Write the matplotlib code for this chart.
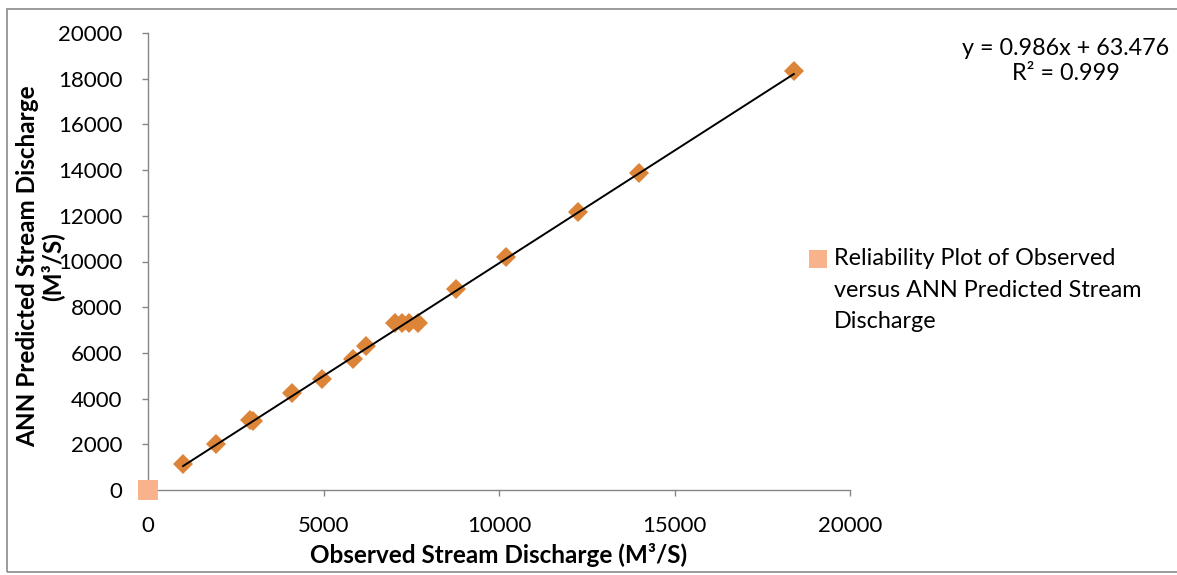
import matplotlib
matplotlib.use("Agg")
import matplotlib.pyplot as plt
from matplotlib.patches import Rectangle
from matplotlib.lines import Line2D
import numpy as np

plt.rcParams['font.family'] = ['Lato', 'DejaVu Sans']

# Observed vs ANN-predicted stream discharge (m^3/s)
observed = [1000, 1950, 2900, 3000, 4100, 4950, 5850, 6200, 7050, 7250, 7450,
            7700, 8780, 10200, 12250, 14000, 18400]
predicted = [1150, 2000, 3050, 3000, 4230, 4850, 5750, 6300, 7320, 7320, 7300,
             7300, 8800, 10200, 12150, 13880, 18340]

# Linear trend line coefficients and goodness of fit
slope = 0.986
intercept = 63.476
r_squared = 0.999

# Single reference point for the legend series
ref_x = [0]
ref_y = [0]
series_name = 'Reliability Plot of Observed\nversus ANN Predicted Stream\nDischarge'

x_ticks = [0, 5000, 10000, 15000, 20000]
y_ticks = list(range(0, 20001, 2000))

diamond_color = '#DC8538'
square_color = '#F8B38C'
axis_gray = '#868686'

fig = plt.figure(figsize=(11.77, 5.75), dpi=100)
ax = fig.add_axes([148 / 1177, 1 - 490 / 575, 702 / 1177, 457 / 575])

# Scatter of model predictions
ax.plot(observed, predicted, linestyle='none', marker='D', markersize=10.2,
        color=diamond_color, markeredgewidth=0, clip_on=False, zorder=3)

# Fitted trend line over the observed range
xs = np.array([min(observed), max(observed)])
ax.plot(xs, slope * xs + intercept, color='black', linewidth=1.4, zorder=4)

# Legend series point at the origin
ax.plot(ref_x, ref_y, linestyle='none', marker='s', markersize=15,
        color=square_color, markeredgewidth=0, clip_on=False, zorder=5)

ax.set_xlim(0, 20000)
ax.set_ylim(0, 20000)
ax.set_xticks(x_ticks)
ax.set_yticks(y_ticks)
ax.set_xticklabels([str(v) for v in x_ticks])
ax.set_yticklabels([str(v) for v in y_ticks])

for side in ('top', 'right'):
    ax.spines[side].set_visible(False)
for side in ('left', 'bottom'):
    ax.spines[side].set_color(axis_gray)
    ax.spines[side].set_linewidth(1.0)

ax.tick_params(axis='both', direction='out', length=4.5, width=1.0,
               color=axis_gray, labelsize=16, labelcolor='black')
ax.tick_params(axis='y', pad=14)
ax.tick_params(axis='x', pad=14)

ax.set_xlabel('Observed Stream Discharge (M³/S)', fontsize=17.5,
              fontweight='bold', va='center')
ax.xaxis.set_label_coords(0.5, -0.142)
ax.set_ylabel('ANN Predicted Stream Discharge\n(M³/S)', fontsize=17.5,
              fontweight='bold', va='center', ha='center',
              multialignment='center', linespacing=1.05)
ax.yaxis.set_label_coords(-0.154, 0.49)

# Trend-line equation
fig.text(1066 / 1177, 1 - 61 / 575,
         f'y = {slope}x + {intercept}\nR² = {r_squared}',
         ha='center', va='center', multialignment='center',
         fontsize=16.8, linespacing=1.2)

# Legend entry: marker key and wrapped series name
fig.add_artist(Line2D([818 / 1177], [1 - 259 / 575], transform=fig.transFigure,
                      linestyle='none', marker='s', markersize=12.5,
                      color=square_color, markeredgewidth=0))
fig.text(834 / 1177, 1 - 248 / 575, series_name, ha='left', va='top',
         fontsize=16.8, linespacing=1.62,
         transform=fig.transFigure)

# Chart area border
fig.patches.append(Rectangle((7 / 1177, 3 / 575), 1.2, 1 - 12 / 575,
                             transform=fig.transFigure, fill=False,
                             edgecolor='#8A8A8A', linewidth=1.2))

fig.savefig('out.png', dpi=100)
